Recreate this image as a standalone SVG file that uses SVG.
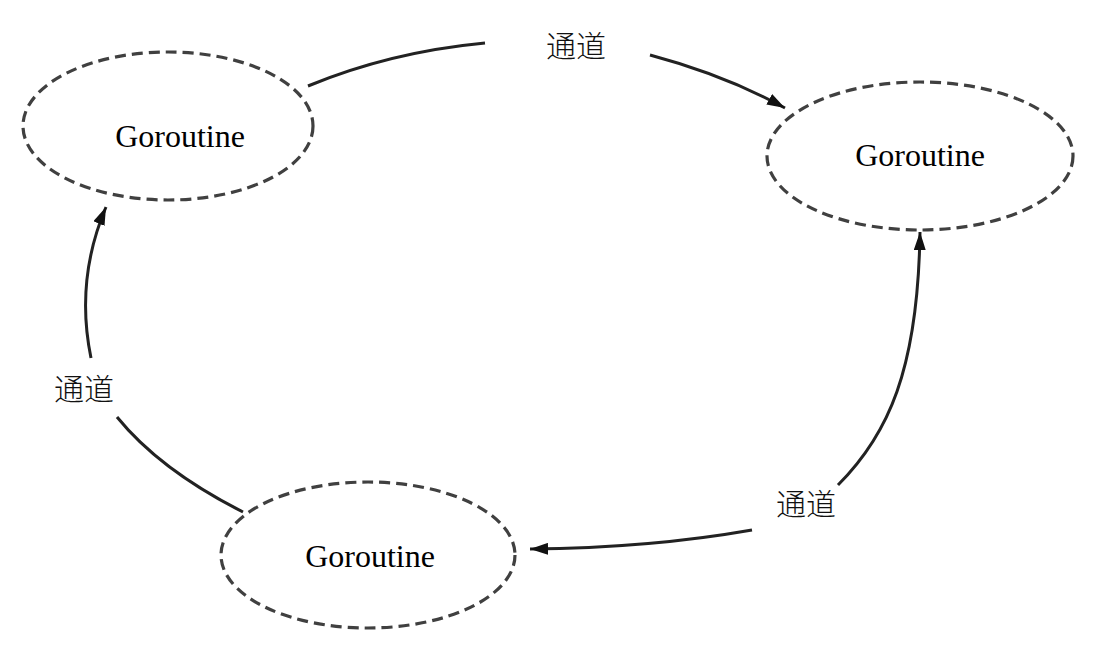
<svg xmlns="http://www.w3.org/2000/svg" width="1100" height="664" viewBox="0 0 1100 664">
<style>
.node{fill:none;stroke:#404040;stroke-width:3.2;stroke-dasharray:11 6}
.lbl{font-family:"Liberation Serif","Times New Roman",serif;font-size:32px;fill:#000;text-anchor:middle}
.ch{font-family:"Liberation Serif","Noto Sans CJK SC",sans-serif;font-size:30px;fill:#111;text-anchor:middle;font-weight:300}
.edge{fill:none;stroke:#222;stroke-width:3}
</style>
<defs>
<marker id="arrow" viewBox="0 0 10 10" refX="10" refY="5" markerWidth="18" markerHeight="12" markerUnits="userSpaceOnUse" orient="auto" preserveAspectRatio="none">
<path d="M0,0 L10,5 L0,10 z" fill="#111"/>
</marker>
</defs>
<rect width="1100" height="664" fill="#fff"/>
<g id="edges">
<path class="edge" d="M308,86 Q390,52 485,43"/>
<path class="edge" d="M650,55 Q725,75 785,108" marker-end="url(#arrow)"/>
<path class="edge" d="M838,485 C888,435 918,370 920,232" marker-end="url(#arrow)"/>
<path class="edge" d="M752,530 Q650,548 530,549" marker-end="url(#arrow)"/>
<path class="edge" d="M243,512 Q160,470 117,417"/>
<path class="edge" d="M91,358 Q75,280 106,207" marker-end="url(#arrow)"/>
<text class="ch" x="576" y="57">通道</text>
<text class="ch" x="84" y="400">通道</text>
<text class="ch" x="806" y="515">通道</text>
</g>
<g id="node-top-left">
<ellipse class="node" cx="168" cy="126" rx="145" ry="74"/>
<text class="lbl" x="180" y="147">Goroutine</text>
</g>
<g id="node-top-right">
<ellipse class="node" cx="920" cy="156" rx="153" ry="74"/>
<text class="lbl" x="920" y="166">Goroutine</text>
</g>
<g id="node-bottom">
<ellipse class="node" cx="368" cy="555" rx="147" ry="73"/>
<text class="lbl" x="370" y="567">Goroutine</text>
</g>
</svg>
